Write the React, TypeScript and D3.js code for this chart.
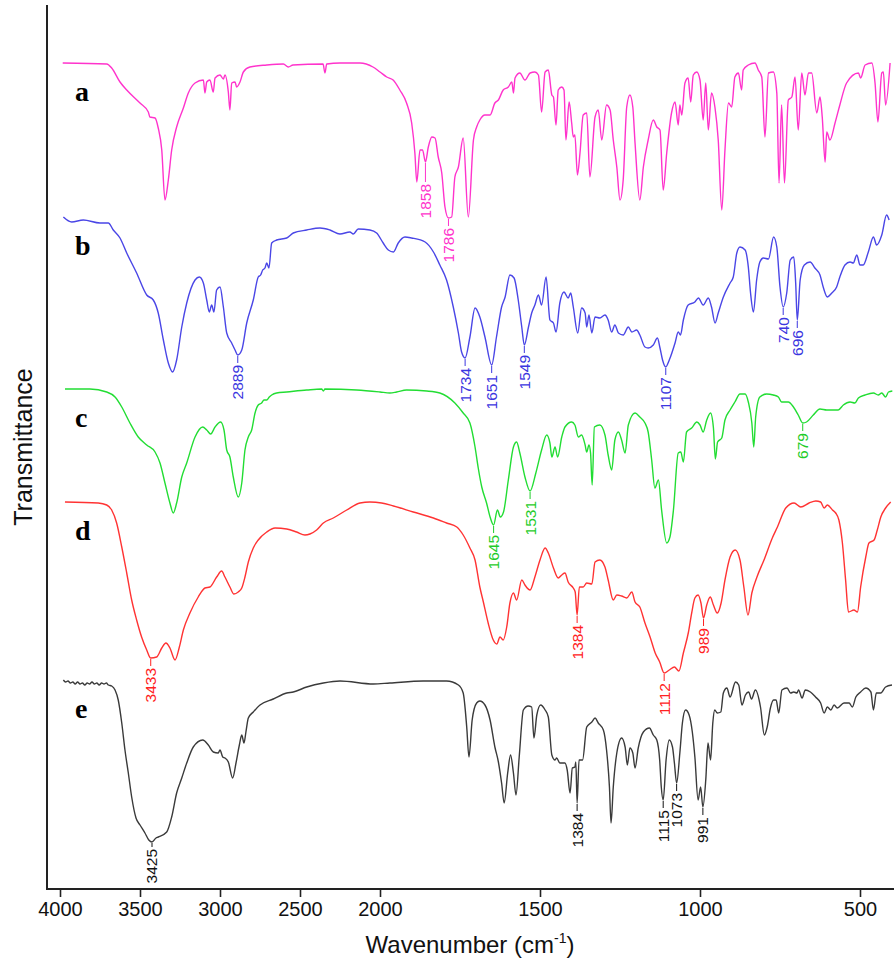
import { useEffect, useRef } from "react";
import * as d3 from "d3";

// FTIR spectra: [wavenumber (cm-1), transmittance (a.u., curves stacked)]
const seriesA: [number, number][] = [
  [3983,825],[3708,824],[3677,820],[3625,806],[3583,798],[3500,785],[3448,776],[3438,771],[3406,770],[3386,760],[3364,738],[3344,688],[3323,708],[3302,738],[3271,761],[3229,780],[3198,795],[3156,805],[3104,808],[3094,795],[3083,806],[3063,808],[3042,796],[3031,810],[3000,813],[2979,809],[2969,813],[2948,796],[2938,778],[2927,805],[2906,806],[2896,801],[2875,806],[2854,816],[2813,821],[2708,823],[2604,824],[2573,821],[2544,823],[2356,824],[2344,815],[2333,824],[2250,825],[2125,825],[2044,821],[2000,816],[1979,811],[1959,808],[1938,798],[1917,785],[1901,765],[1891,735],[1885,706],[1875,738],[1867,738],[1858,726],[1849,741],[1838,751],[1828,750],[1818,731],[1807,715],[1797,681],[1786,670],[1776,671],[1766,711],[1755,721],[1740,750],[1724,671],[1708,748],[1698,761],[1688,768],[1672,773],[1656,773],[1641,785],[1630,788],[1615,798],[1599,801],[1588,806],[1583,795],[1578,810],[1563,815],[1547,808],[1531,815],[1516,816],[1505,813],[1495,776],[1484,816],[1474,818],[1463,793],[1458,791],[1450,763],[1443,798],[1432,801],[1425,798],[1419,748],[1409,786],[1401,765],[1396,751],[1391,753],[1383,713],[1375,735],[1365,773],[1354,775],[1344,711],[1328,771],[1318,778],[1307,748],[1292,783],[1281,778],[1271,748],[1260,721],[1250,688],[1240,708],[1229,781],[1219,793],[1210,781],[1203,745],[1188,688],[1177,721],[1162,748],[1146,768],[1135,761],[1125,758],[1115,698],[1104,735],[1089,775],[1078,786],[1068,763],[1063,783],[1057,773],[1047,805],[1037,810],[1029,786],[1021,813],[1010,816],[1000,808],[990,768],[982,805],[974,758],[964,795],[953,780],[943,748],[932,678],[922,738],[911,785],[901,781],[891,811],[880,815],[870,798],[865,818],[849,823],[828,825],[818,818],[807,811],[797,751],[786,815],[771,816],[760,795],[753,705],[745,783],[736,705],[724,788],[713,791],[703,811],[693,758],[682,815],[672,793],[661,815],[651,815],[635,775],[625,791],[618,771],[609,726],[604,756],[594,748],[578,765],[563,783],[542,805],[505,815],[498,810],[484,823],[463,825],[453,805],[444,766],[432,815],[427,816],[420,783],[406,825]
];

const seriesB: [number, number][] = [
  [3979,671],[3927,666],[3854,668],[3750,665],[3698,665],[3667,658],[3625,650],[3583,635],[3521,615],[3458,593],[3417,588],[3386,575],[3354,548],[3323,525],[3296,516],[3271,528],[3239,561],[3208,585],[3156,608],[3129,611],[3104,605],[3083,588],[3067,576],[3052,583],[3038,576],[3021,598],[3000,601],[2979,581],[2958,555],[2927,545],[2906,538],[2889,533],[2864,538],[2833,565],[2792,588],[2761,611],[2746,613],[2733,618],[2719,620],[2708,625],[2694,620],[2677,645],[2646,648],[2583,650],[2542,655],[2458,658],[2375,660],[2313,658],[2250,654],[2188,656],[2167,654],[2136,659],[2063,658],[2021,655],[1990,645],[1974,638],[1958,636],[1943,645],[1922,651],[1901,650],[1859,646],[1833,636],[1813,623],[1792,608],[1771,581],[1755,555],[1745,536],[1734,530],[1719,551],[1703,580],[1688,571],[1672,551],[1651,523],[1636,551],[1620,581],[1609,591],[1594,613],[1581,610],[1568,588],[1557,561],[1549,543],[1536,561],[1526,575],[1516,583],[1505,593],[1495,583],[1481,611],[1469,568],[1458,565],[1450,556],[1438,585],[1425,596],[1412,590],[1404,595],[1396,581],[1382,555],[1370,580],[1359,575],[1354,561],[1347,573],[1338,555],[1328,571],[1313,570],[1297,573],[1287,568],[1276,556],[1266,563],[1255,555],[1240,553],[1224,561],[1213,556],[1198,558],[1188,553],[1172,541],[1162,540],[1146,543],[1133,550],[1125,540],[1117,528],[1107,521],[1096,528],[1078,545],[1068,556],[1061,553],[1052,568],[1037,583],[1016,586],[1005,590],[990,583],[974,590],[964,581],[953,565],[943,575],[927,591],[906,605],[896,611],[885,635],[875,641],[859,638],[849,621],[842,595],[833,576],[823,608],[813,626],[802,630],[786,629],[770,651],[760,641],[750,601],[740,581],[729,595],[718,628],[707,631],[701,605],[696,568],[687,608],[674,623],[656,626],[641,620],[625,613],[615,601],[602,591],[588,595],[573,601],[563,611],[547,623],[531,626],[521,625],[510,633],[500,623],[490,623],[474,636],[458,651],[448,643],[432,653],[417,673],[409,668]
];

const seriesC: [number, number][] = [
  [3969,499],[3813,499],[3708,496],[3656,491],[3614,481],[3563,465],[3511,451],[3458,443],[3406,436],[3375,425],[3344,405],[3313,385],[3292,375],[3271,385],[3239,411],[3208,425],[3156,451],[3108,461],[3083,458],[3058,454],[3031,461],[2996,466],[2975,458],[2958,438],[2938,431],[2917,411],[2886,391],[2864,405],[2844,438],[2823,451],[2802,458],[2781,475],[2761,483],[2740,485],[2725,488],[2708,488],[2692,491],[2677,493],[2646,495],[2583,496],[2458,498],[2365,499],[2354,497],[2344,499],[2146,498],[2000,496],[1969,495],[1948,496],[1917,498],[1854,497],[1813,495],[1766,485],[1740,475],[1719,465],[1703,441],[1693,420],[1682,401],[1667,385],[1656,371],[1645,363],[1633,378],[1624,371],[1614,376],[1599,408],[1583,441],[1573,446],[1563,435],[1547,411],[1531,397],[1513,415],[1495,438],[1479,453],[1469,445],[1463,431],[1453,441],[1445,431],[1432,451],[1422,461],[1401,466],[1391,463],[1380,451],[1370,453],[1359,443],[1354,436],[1347,443],[1342,435],[1337,403],[1330,461],[1313,463],[1297,453],[1287,433],[1276,418],[1266,448],[1255,456],[1245,448],[1234,435],[1224,463],[1203,475],[1188,471],[1172,465],[1162,456],[1151,428],[1141,400],[1130,408],[1120,378],[1104,345],[1094,351],[1083,378],[1068,435],[1060,436],[1052,426],[1042,456],[1026,460],[1010,466],[1000,463],[990,456],[979,468],[967,475],[958,460],[952,429],[945,446],[932,450],[922,468],[906,478],[891,486],[875,494],[859,494],[849,486],[838,465],[832,441],[826,471],[813,491],[792,494],[771,493],[755,491],[745,486],[724,486],[708,481],[693,473],[679,465],[667,466],[646,473],[625,479],[604,478],[568,478],[552,483],[531,486],[516,485],[505,490],[484,493],[458,495],[443,493],[432,495],[420,491],[411,496],[399,497]
];

const seriesD: [number, number][] = [
  [3969,386],[3761,385],[3708,383],[3677,378],[3646,365],[3614,341],[3583,315],[3552,288],[3521,268],[3490,251],[3458,238],[3433,230],[3396,231],[3364,240],[3338,245],[3313,240],[3281,228],[3254,241],[3229,258],[3188,275],[3136,291],[3094,300],[3063,301],[3021,311],[2990,317],[2969,311],[2938,301],[2913,294],[2886,296],[2864,300],[2844,311],[2823,326],[2792,340],[2761,348],[2708,356],[2656,360],[2583,359],[2521,356],[2469,353],[2438,354],[2396,358],[2354,365],[2292,370],[2208,378],[2125,385],[2063,386],[1995,385],[1958,382],[1896,376],[1833,370],[1792,365],[1760,361],[1740,353],[1719,340],[1703,328],[1688,301],[1677,286],[1662,265],[1646,248],[1635,244],[1625,251],[1615,248],[1604,261],[1594,285],[1583,295],[1573,288],[1557,308],[1547,303],[1531,298],[1516,311],[1500,328],[1484,340],[1474,335],[1458,320],[1443,310],[1432,313],[1422,315],[1412,306],[1396,300],[1390,296],[1384,273],[1377,301],[1365,301],[1354,305],[1338,304],[1328,326],[1313,328],[1297,321],[1287,308],[1271,288],[1260,293],[1245,292],[1229,290],[1213,296],[1203,286],[1188,281],[1172,265],[1156,251],[1140,235],[1126,226],[1112,215],[1096,218],[1080,221],[1066,217],[1052,235],[1036,256],[1026,275],[1016,290],[1006,293],[997,285],[989,270],[979,283],[968,291],[958,283],[946,275],[934,285],[922,308],[906,331],[890,338],[875,328],[863,301],[850,273],[838,295],[822,311],[800,328],[774,350],[758,361],[732,380],[706,385],[685,381],[659,385],[638,387],[623,386],[612,380],[602,383],[586,378],[576,375],[566,368],[555,345],[545,308],[536,276],[519,278],[508,276],[498,301],[482,331],[472,345],[456,348],[446,358],[435,371],[420,380],[404,386]
];

const seriesE: [number, number][] = [
  [3979,208],[3965,206],[3950,207],[3935,205],[3920,206],[3905,204],[3890,206],[3875,204],[3860,205],[3845,203],[3830,205],[3815,204],[3800,206],[3785,204],[3770,205],[3755,203],[3740,205],[3725,204],[3710,205],[3698,203],[3677,202],[3656,198],[3636,188],[3614,165],[3594,138],[3573,115],[3552,91],[3525,70],[3500,63],[3469,55],[3445,48],[3425,46],[3400,50],[3386,51],[3333,56],[3302,71],[3271,95],[3239,110],[3208,125],[3167,141],[3108,148],[3073,143],[3042,136],[3011,135],[3000,138],[2983,131],[2969,130],[2948,126],[2921,110],[2900,125],[2879,143],[2864,153],[2850,145],[2838,156],[2823,170],[2792,176],[2750,183],[2667,189],[2583,195],[2542,196],[2458,201],[2354,205],[2250,207],[2042,204],[1969,205],[1865,207],[1792,207],[1755,203],[1740,195],[1729,161],[1722,131],[1712,168],[1698,185],[1688,187],[1672,183],[1656,168],[1641,141],[1630,126],[1620,105],[1612,85],[1601,115],[1592,133],[1583,115],[1575,93],[1565,131],[1552,178],[1537,182],[1526,181],[1519,150],[1510,173],[1498,183],[1484,178],[1474,171],[1463,133],[1453,128],[1448,130],[1438,125],[1422,125],[1415,118],[1406,95],[1399,120],[1391,121],[1388,126],[1384,85],[1378,128],[1367,128],[1354,161],[1338,166],[1328,170],[1318,165],[1302,158],[1292,138],[1283,101],[1278,65],[1271,101],[1260,135],[1245,150],[1234,141],[1227,123],[1219,140],[1210,135],[1203,120],[1193,140],[1177,156],[1158,160],[1146,153],[1135,148],[1126,128],[1121,101],[1115,88],[1106,128],[1096,148],[1086,141],[1080,125],[1073,105],[1063,135],[1055,165],[1045,178],[1034,173],[1024,156],[1016,131],[1006,88],[998,101],[991,81],[982,108],[975,145],[967,128],[960,165],[954,178],[946,175],[935,176],[927,195],[916,200],[906,191],[889,206],[879,203],[869,183],[858,193],[848,196],[839,189],[827,198],[811,181],[799,153],[790,161],[780,180],[770,188],[762,188],[754,175],[744,198],[728,200],[717,195],[707,196],[697,195],[692,198],[681,190],[671,198],[655,196],[639,191],[623,185],[612,175],[602,181],[591,178],[581,183],[571,180],[550,185],[534,185],[524,181],[513,191],[498,196],[482,200],[466,196],[458,178],[449,195],[435,195],[420,201],[400,203]
];

// labelled bands
const peaksA = [1858, 1786];
const peaksB = [2889, 1734, 1651, 1549, 1107, 740, 696];
const peaksC = [1645, 1531, 679];
const peaksD = [3433, 1384, 1112, 989];
const peaksE = [3425, 1384, 1115, 1073, 991];

const xTicks = [4000, 3500, 3000, 2500, 2000, 1500, 1000, 500];

const spectra = [
  { id: "a", data: seriesA, peaks: peaksA, color: "#ff33cc", text: "#ff33cc" },
  { id: "b", data: seriesB, peaks: peaksB, color: "#4a46e6", text: "#3b36e0" },
  { id: "c", data: seriesC, peaks: peaksC, color: "#22dd33", text: "#1fcc2a" },
  { id: "d", data: seriesD, peaks: peaksD, color: "#ff3333", text: "#ff2222" },
  { id: "e", data: seriesE, peaks: peaksE, color: "#3a3a3a", text: "#111111" },
];

// FTIR axis: scale changes at 2000 cm-1
const x = d3.scaleLinear().domain([4000, 2000, 400]).range([60, 380, 892]);
const y = d3.scaleLinear().domain([0, 880]).range([888, 8]);

const SANS = "'Liberation Sans', Arial, sans-serif";

export default function App() {
  const axisRef = useRef<SVGGElement>(null);

  useEffect(() => {
    const g = d3.select(axisRef.current);
    g.selectAll("*").remove();
    g.call(
      d3.axisBottom(x).tickValues(xTicks).tickSize(8).tickPadding(5).tickFormat(d3.format("d"))
    );
    g.select(".domain").remove();
    g.selectAll(".tick line").attr("stroke", "#222").attr("stroke-width", 1.6);
    g.selectAll(".tick text")
      .attr("font-size", 20)
      .attr("font-family", SANS)
      .attr("fill", "#111");
  }, []);

  const line = d3
    .line<[number, number]>()
    .x((d) => x(d[0]))
    .y((d) => y(d[1]))
    .curve(d3.curveMonotoneX);

  const peakValue = (data: [number, number][], wn: number) =>
    d3.min(data.filter((d) => Math.abs(d[0] - wn) <= 6), (d) => d[1]) ?? 0;

  return (
    <svg
      width={894}
      height={963}
      style={{ position: "absolute", left: 0, top: 0, background: "#fff" }}
    >
      {/* frame */}
      <line x1={47} y1={5} x2={47} y2={889} stroke="#222" strokeWidth={2} />
      <line x1={46} y1={889} x2={894} y2={889} stroke="#222" strokeWidth={2} />
      <g ref={axisRef} transform="translate(0,889)" />

      {spectra.map((s) => (
        <g key={s.id}>
          <path d={line(s.data) ?? ""} fill="none" stroke={s.color} strokeWidth={1.4} />
          <text
            x={75}
            y={y(s.data[0][1]) + 38}
            fontFamily="'Liberation Serif', 'Times New Roman', serif"
            fontWeight="bold"
            fontSize={28}
            fill="#000"
          >
            {s.id}
          </text>
          {s.peaks.map((p) => {
            const px = x(p);
            const py = y(peakValue(s.data, p));
            const lead = p === 1858 && s.id === "a" ? 19 : p === 3425 ? 4 : 7;
            return (
              <g key={p}>
                <line x1={px} x2={px} y1={py + 1} y2={py + 1 + lead} stroke={s.text} strokeWidth={1} />
                <text
                  transform={`translate(${px},${py + 3 + lead}) rotate(-90)`}
                  textAnchor="end"
                  dy="0.35em"
                  fontFamily={SANS}
                  fontSize={15.5}
                  fill={s.text}
                >
                  {p}
                </text>
              </g>
            );
          })}
        </g>
      ))}

      <text
        transform="translate(32,447) rotate(-90)"
        textAnchor="middle"
        fontFamily={SANS}
        fontSize={25}
        fill="#111"
      >
        Transmittance
      </text>
      <text x={470} y={953} textAnchor="middle" fontFamily={SANS} fontSize={24} fill="#111">
        Wavenumber (cm<tspan dy={-10} fontSize={14}>-1</tspan>
        <tspan dy={10}>)</tspan>
      </text>
    </svg>
  );
}
